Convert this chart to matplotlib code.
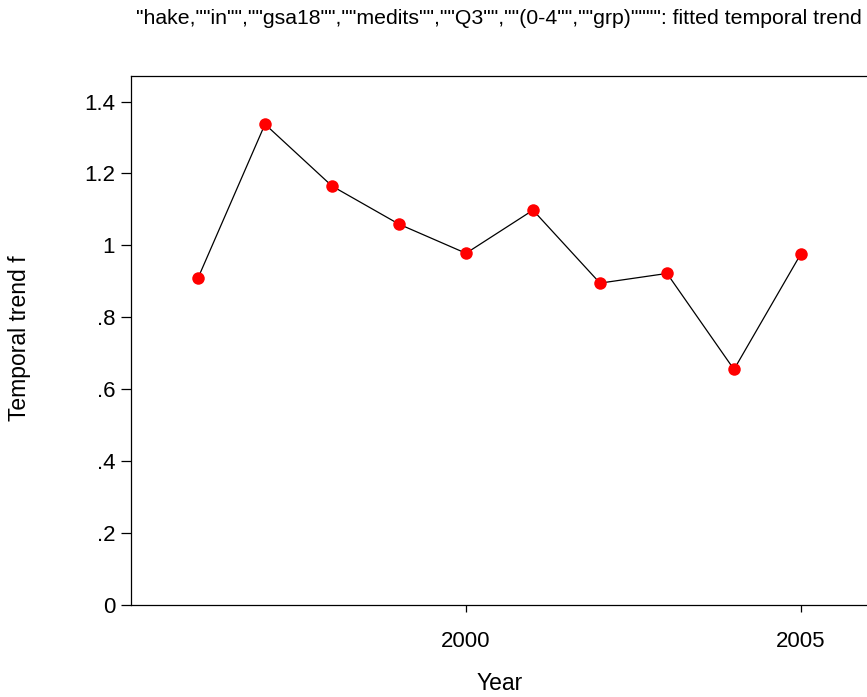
import matplotlib
matplotlib.use("Agg")
import matplotlib.pyplot as plt

# values
years = [1996, 1997, 1998, 1999, 2000, 2001, 2002, 2003, 2004, 2005]
trend = [0.909, 1.337, 1.165, 1.059, 0.978, 1.098, 0.895, 0.922, 0.655, 0.977]
yticks = [0, 0.2, 0.4, 0.6, 0.8, 1.0, 1.2, 1.4]
ytick_labels = ["0", ".2", ".4", ".6", ".8", "1", "1.2", "1.4"]
xticks = [2000, 2005]

title = '"hake,""in"",""gsa18"",""medits"",""Q3"",""(0-4"",""grp)"""": fitted temporal trend'

plt.rcParams['font.family'] = ['Liberation Sans', 'DejaVu Sans']

fig = plt.figure(figsize=(8.67, 6.97), dpi=100)
ax = fig.add_axes([131 / 867, 92 / 697, 737 / 867, 529 / 697])

ax.plot(years, trend, color='black', lw=0.9, zorder=2)
ax.plot(years, trend, 'o', color='red', markersize=9, markeredgewidth=0, zorder=3)

ax.set_xlim(1995, 2006)
ax.set_ylim(0, 1.471)
ax.set_xticks(xticks)
ax.set_xticklabels([str(x) for x in xticks])
ax.set_yticks(yticks)
ax.set_yticklabels(ytick_labels)
ax.tick_params(axis='y', direction='out', length=7, width=0.9, labelsize=16, pad=4.5)
ax.tick_params(axis='x', direction='out', length=5, width=0.9, labelsize=16, pad=14)
for s in ax.spines.values():
    s.set_linewidth(0.9)

fig.text(499 / 867, 1 - 19 / 697, title, ha='center', va='center', fontsize=15.3)
fig.text(20 / 867, 1 - 338 / 697, 'Temporal trend f', rotation=90, ha='center', va='center', fontsize=16.5)
fig.text(500 / 867, 1 - 683 / 697, 'Year', ha='center', va='center', fontsize=16.5)

fig.savefig('out.png', dpi=100)
